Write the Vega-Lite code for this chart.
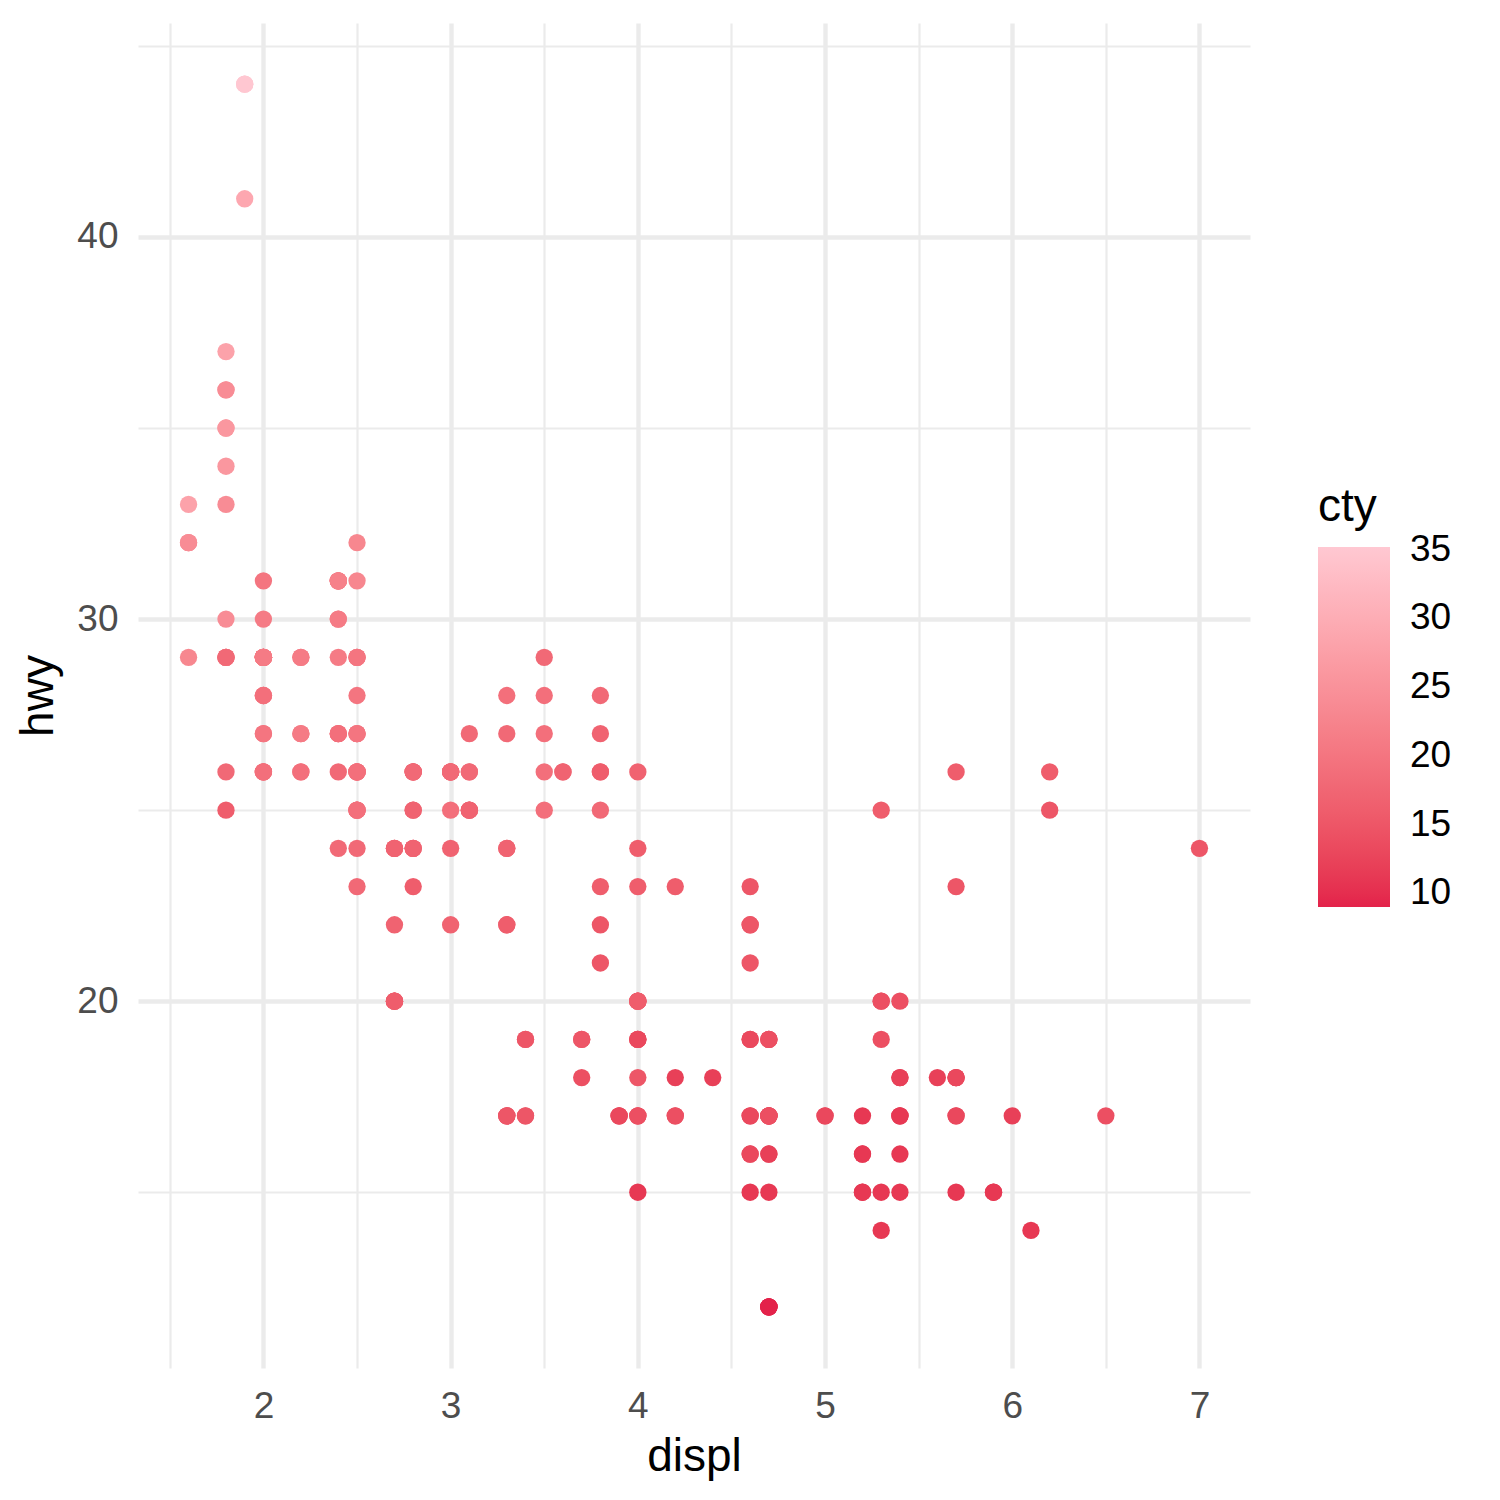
{
  "$schema": "https://vega.github.io/schema/vega-lite/v6.json",
  "autosize": "none",
  "padding": {"left": 138, "top": 23, "right": 250, "bottom": 132},
  "width": 1112,
  "height": 1345,
  "background": "white",
  "config": {
    "view": {"stroke": null},
    "font": "Liberation Sans",
    "axis": {
      "domain": false,
      "ticks": false,
      "gridColor": "#EBEBEB",
      "labelFont": "Liberation Sans",
      "labelFontSize": 37,
      "labelColor": "#4D4D4D",
      "titleFont": "Liberation Sans",
      "titleFontSize": 46,
      "titleFontWeight": "normal",
      "titleColor": "#000000"
    }
  },
  "data": {
    "values": [
      {"displ": 1.8, "hwy": 29, "cty": 18}, {"displ": 1.8, "hwy": 29, "cty": 21}, {"displ": 2.0, "hwy": 31, "cty": 20},
      {"displ": 2.0, "hwy": 30, "cty": 21}, {"displ": 2.8, "hwy": 26, "cty": 16}, {"displ": 2.8, "hwy": 26, "cty": 18},
      {"displ": 3.1, "hwy": 27, "cty": 18}, {"displ": 1.8, "hwy": 26, "cty": 18}, {"displ": 1.8, "hwy": 25, "cty": 16},
      {"displ": 2.0, "hwy": 28, "cty": 20}, {"displ": 2.0, "hwy": 27, "cty": 19}, {"displ": 2.8, "hwy": 25, "cty": 15},
      {"displ": 2.8, "hwy": 25, "cty": 17}, {"displ": 3.1, "hwy": 25, "cty": 17}, {"displ": 3.1, "hwy": 25, "cty": 15},
      {"displ": 2.8, "hwy": 24, "cty": 15}, {"displ": 3.1, "hwy": 25, "cty": 17}, {"displ": 4.2, "hwy": 23, "cty": 16},
      {"displ": 5.3, "hwy": 20, "cty": 14}, {"displ": 5.3, "hwy": 15, "cty": 11}, {"displ": 5.3, "hwy": 20, "cty": 14},
      {"displ": 5.7, "hwy": 17, "cty": 13}, {"displ": 6.0, "hwy": 17, "cty": 12}, {"displ": 5.7, "hwy": 26, "cty": 16},
      {"displ": 5.7, "hwy": 23, "cty": 15}, {"displ": 6.2, "hwy": 26, "cty": 16}, {"displ": 6.2, "hwy": 25, "cty": 15},
      {"displ": 7.0, "hwy": 24, "cty": 15}, {"displ": 5.3, "hwy": 19, "cty": 14}, {"displ": 5.3, "hwy": 14, "cty": 11},
      {"displ": 5.7, "hwy": 15, "cty": 11}, {"displ": 6.5, "hwy": 17, "cty": 14}, {"displ": 2.4, "hwy": 27, "cty": 19},
      {"displ": 2.4, "hwy": 30, "cty": 22}, {"displ": 3.1, "hwy": 26, "cty": 18}, {"displ": 3.5, "hwy": 29, "cty": 18},
      {"displ": 3.6, "hwy": 26, "cty": 17}, {"displ": 2.4, "hwy": 24, "cty": 18}, {"displ": 3.0, "hwy": 24, "cty": 17},
      {"displ": 3.3, "hwy": 22, "cty": 16}, {"displ": 3.3, "hwy": 22, "cty": 16}, {"displ": 3.3, "hwy": 24, "cty": 17},
      {"displ": 3.3, "hwy": 24, "cty": 17}, {"displ": 3.3, "hwy": 17, "cty": 11}, {"displ": 3.8, "hwy": 22, "cty": 15},
      {"displ": 3.8, "hwy": 21, "cty": 15}, {"displ": 3.8, "hwy": 23, "cty": 16}, {"displ": 4.0, "hwy": 23, "cty": 16},
      {"displ": 3.7, "hwy": 19, "cty": 15}, {"displ": 3.7, "hwy": 18, "cty": 14}, {"displ": 3.9, "hwy": 17, "cty": 13},
      {"displ": 3.9, "hwy": 17, "cty": 14}, {"displ": 4.7, "hwy": 19, "cty": 14}, {"displ": 4.7, "hwy": 19, "cty": 14},
      {"displ": 4.7, "hwy": 12, "cty": 9}, {"displ": 5.2, "hwy": 17, "cty": 11}, {"displ": 5.2, "hwy": 15, "cty": 11},
      {"displ": 3.9, "hwy": 17, "cty": 13}, {"displ": 4.7, "hwy": 17, "cty": 13}, {"displ": 4.7, "hwy": 12, "cty": 9},
      {"displ": 4.7, "hwy": 17, "cty": 13}, {"displ": 5.2, "hwy": 16, "cty": 11}, {"displ": 5.7, "hwy": 18, "cty": 13},
      {"displ": 5.9, "hwy": 15, "cty": 11}, {"displ": 4.7, "hwy": 16, "cty": 12}, {"displ": 4.7, "hwy": 12, "cty": 9},
      {"displ": 4.7, "hwy": 17, "cty": 13}, {"displ": 4.7, "hwy": 17, "cty": 13}, {"displ": 4.7, "hwy": 16, "cty": 12},
      {"displ": 4.7, "hwy": 12, "cty": 9}, {"displ": 5.2, "hwy": 15, "cty": 11}, {"displ": 5.2, "hwy": 16, "cty": 11},
      {"displ": 5.7, "hwy": 17, "cty": 13}, {"displ": 5.9, "hwy": 15, "cty": 11}, {"displ": 4.6, "hwy": 17, "cty": 11},
      {"displ": 5.4, "hwy": 17, "cty": 11}, {"displ": 5.4, "hwy": 18, "cty": 12}, {"displ": 4.0, "hwy": 17, "cty": 14},
      {"displ": 4.0, "hwy": 19, "cty": 15}, {"displ": 4.0, "hwy": 17, "cty": 14}, {"displ": 4.0, "hwy": 19, "cty": 13},
      {"displ": 4.6, "hwy": 19, "cty": 13}, {"displ": 5.0, "hwy": 17, "cty": 13}, {"displ": 4.2, "hwy": 17, "cty": 14},
      {"displ": 4.2, "hwy": 17, "cty": 14}, {"displ": 4.6, "hwy": 16, "cty": 13}, {"displ": 4.6, "hwy": 16, "cty": 13},
      {"displ": 4.6, "hwy": 17, "cty": 13}, {"displ": 5.4, "hwy": 15, "cty": 11}, {"displ": 5.4, "hwy": 17, "cty": 13},
      {"displ": 3.8, "hwy": 26, "cty": 18}, {"displ": 3.8, "hwy": 25, "cty": 18}, {"displ": 4.0, "hwy": 26, "cty": 17},
      {"displ": 4.0, "hwy": 24, "cty": 16}, {"displ": 4.6, "hwy": 21, "cty": 15}, {"displ": 4.6, "hwy": 22, "cty": 15},
      {"displ": 4.6, "hwy": 23, "cty": 15}, {"displ": 4.6, "hwy": 22, "cty": 15}, {"displ": 5.4, "hwy": 20, "cty": 14},
      {"displ": 1.6, "hwy": 33, "cty": 28}, {"displ": 1.6, "hwy": 32, "cty": 24}, {"displ": 1.6, "hwy": 32, "cty": 25},
      {"displ": 1.6, "hwy": 29, "cty": 23}, {"displ": 1.6, "hwy": 32, "cty": 24}, {"displ": 1.8, "hwy": 34, "cty": 26},
      {"displ": 1.8, "hwy": 36, "cty": 25}, {"displ": 1.8, "hwy": 36, "cty": 24}, {"displ": 2.0, "hwy": 29, "cty": 21},
      {"displ": 2.4, "hwy": 26, "cty": 18}, {"displ": 2.4, "hwy": 27, "cty": 18}, {"displ": 2.4, "hwy": 30, "cty": 21},
      {"displ": 2.4, "hwy": 31, "cty": 21}, {"displ": 2.5, "hwy": 26, "cty": 18}, {"displ": 2.5, "hwy": 26, "cty": 18},
      {"displ": 3.3, "hwy": 28, "cty": 19}, {"displ": 2.0, "hwy": 26, "cty": 19}, {"displ": 2.0, "hwy": 29, "cty": 19},
      {"displ": 2.0, "hwy": 28, "cty": 20}, {"displ": 2.0, "hwy": 27, "cty": 20}, {"displ": 2.7, "hwy": 24, "cty": 17},
      {"displ": 2.7, "hwy": 24, "cty": 16}, {"displ": 2.7, "hwy": 24, "cty": 17}, {"displ": 3.0, "hwy": 22, "cty": 17},
      {"displ": 3.7, "hwy": 19, "cty": 15}, {"displ": 4.0, "hwy": 20, "cty": 15}, {"displ": 4.7, "hwy": 17, "cty": 14},
      {"displ": 4.7, "hwy": 12, "cty": 9}, {"displ": 4.7, "hwy": 19, "cty": 14}, {"displ": 5.7, "hwy": 18, "cty": 13},
      {"displ": 6.1, "hwy": 14, "cty": 11}, {"displ": 4.0, "hwy": 15, "cty": 11}, {"displ": 4.2, "hwy": 18, "cty": 12},
      {"displ": 4.4, "hwy": 18, "cty": 12}, {"displ": 4.6, "hwy": 15, "cty": 11}, {"displ": 5.4, "hwy": 17, "cty": 11},
      {"displ": 5.4, "hwy": 16, "cty": 11}, {"displ": 5.4, "hwy": 18, "cty": 12}, {"displ": 4.0, "hwy": 17, "cty": 14},
      {"displ": 4.0, "hwy": 19, "cty": 13}, {"displ": 4.6, "hwy": 19, "cty": 13}, {"displ": 5.0, "hwy": 17, "cty": 13},
      {"displ": 2.4, "hwy": 29, "cty": 21}, {"displ": 2.4, "hwy": 27, "cty": 19}, {"displ": 2.5, "hwy": 31, "cty": 23},
      {"displ": 2.5, "hwy": 32, "cty": 23}, {"displ": 3.5, "hwy": 27, "cty": 19}, {"displ": 3.5, "hwy": 26, "cty": 19},
      {"displ": 3.0, "hwy": 26, "cty": 18}, {"displ": 3.0, "hwy": 25, "cty": 19}, {"displ": 3.5, "hwy": 25, "cty": 19},
      {"displ": 3.3, "hwy": 17, "cty": 14}, {"displ": 3.3, "hwy": 17, "cty": 15}, {"displ": 4.0, "hwy": 20, "cty": 14},
      {"displ": 5.6, "hwy": 18, "cty": 12}, {"displ": 3.1, "hwy": 26, "cty": 18}, {"displ": 3.8, "hwy": 26, "cty": 16},
      {"displ": 3.8, "hwy": 27, "cty": 17}, {"displ": 3.8, "hwy": 28, "cty": 18}, {"displ": 5.3, "hwy": 25, "cty": 16},
      {"displ": 2.5, "hwy": 25, "cty": 18}, {"displ": 2.5, "hwy": 24, "cty": 18}, {"displ": 2.5, "hwy": 27, "cty": 20},
      {"displ": 2.5, "hwy": 25, "cty": 19}, {"displ": 2.5, "hwy": 26, "cty": 20}, {"displ": 2.5, "hwy": 23, "cty": 18},
      {"displ": 2.2, "hwy": 26, "cty": 21}, {"displ": 2.2, "hwy": 26, "cty": 19}, {"displ": 2.5, "hwy": 26, "cty": 19},
      {"displ": 2.5, "hwy": 26, "cty": 19}, {"displ": 2.5, "hwy": 25, "cty": 20}, {"displ": 2.5, "hwy": 27, "cty": 20},
      {"displ": 2.5, "hwy": 25, "cty": 19}, {"displ": 2.5, "hwy": 27, "cty": 20}, {"displ": 2.7, "hwy": 20, "cty": 15},
      {"displ": 2.7, "hwy": 20, "cty": 16}, {"displ": 3.4, "hwy": 19, "cty": 15}, {"displ": 3.4, "hwy": 17, "cty": 15},
      {"displ": 4.0, "hwy": 20, "cty": 16}, {"displ": 4.7, "hwy": 17, "cty": 14}, {"displ": 2.2, "hwy": 29, "cty": 21},
      {"displ": 2.2, "hwy": 27, "cty": 21}, {"displ": 2.4, "hwy": 31, "cty": 21}, {"displ": 2.4, "hwy": 31, "cty": 21},
      {"displ": 3.0, "hwy": 26, "cty": 18}, {"displ": 3.0, "hwy": 26, "cty": 18}, {"displ": 3.5, "hwy": 28, "cty": 19},
      {"displ": 2.2, "hwy": 27, "cty": 21}, {"displ": 2.2, "hwy": 29, "cty": 21}, {"displ": 2.4, "hwy": 31, "cty": 21},
      {"displ": 2.4, "hwy": 31, "cty": 22}, {"displ": 3.0, "hwy": 26, "cty": 18}, {"displ": 3.0, "hwy": 26, "cty": 18},
      {"displ": 3.3, "hwy": 27, "cty": 18}, {"displ": 1.8, "hwy": 30, "cty": 24}, {"displ": 1.8, "hwy": 33, "cty": 24},
      {"displ": 1.8, "hwy": 35, "cty": 26}, {"displ": 1.8, "hwy": 37, "cty": 28}, {"displ": 1.8, "hwy": 35, "cty": 26},
      {"displ": 4.7, "hwy": 15, "cty": 11}, {"displ": 5.7, "hwy": 18, "cty": 13}, {"displ": 2.7, "hwy": 20, "cty": 15},
      {"displ": 2.7, "hwy": 20, "cty": 16}, {"displ": 2.7, "hwy": 22, "cty": 17}, {"displ": 3.4, "hwy": 17, "cty": 15},
      {"displ": 3.4, "hwy": 19, "cty": 15}, {"displ": 4.0, "hwy": 18, "cty": 15}, {"displ": 4.0, "hwy": 20, "cty": 16},
      {"displ": 2.0, "hwy": 29, "cty": 21}, {"displ": 2.0, "hwy": 26, "cty": 19}, {"displ": 2.0, "hwy": 29, "cty": 21},
      {"displ": 2.0, "hwy": 29, "cty": 22}, {"displ": 2.8, "hwy": 24, "cty": 17}, {"displ": 1.9, "hwy": 44, "cty": 33},
      {"displ": 2.0, "hwy": 29, "cty": 21}, {"displ": 2.0, "hwy": 26, "cty": 19}, {"displ": 2.0, "hwy": 29, "cty": 22},
      {"displ": 2.0, "hwy": 29, "cty": 21}, {"displ": 2.5, "hwy": 29, "cty": 21}, {"displ": 2.5, "hwy": 29, "cty": 21},
      {"displ": 2.8, "hwy": 23, "cty": 16}, {"displ": 2.8, "hwy": 24, "cty": 17}, {"displ": 1.9, "hwy": 44, "cty": 35},
      {"displ": 1.9, "hwy": 41, "cty": 29}, {"displ": 2.0, "hwy": 29, "cty": 21}, {"displ": 2.0, "hwy": 26, "cty": 19},
      {"displ": 2.5, "hwy": 28, "cty": 20}, {"displ": 2.5, "hwy": 29, "cty": 20}, {"displ": 1.8, "hwy": 29, "cty": 21},
      {"displ": 1.8, "hwy": 29, "cty": 18}, {"displ": 2.0, "hwy": 28, "cty": 19}, {"displ": 2.0, "hwy": 29, "cty": 21},
      {"displ": 2.8, "hwy": 26, "cty": 16}, {"displ": 2.8, "hwy": 26, "cty": 18}, {"displ": 3.6, "hwy": 26, "cty": 17}
    ]
  },
  "encoding": {
    "x": {
      "field": "displ",
      "type": "quantitative",
      "scale": {"domain": [1.33, 7.27], "nice": false, "zero": false}
    },
    "y": {
      "field": "hwy",
      "type": "quantitative",
      "scale": {"domain": [10.4, 45.6], "nice": false, "zero": false}
    }
  },
  "layer": [
    {
      "mark": {"type": "point", "opacity": 0},
      "encoding": {
        "x": {
          "field": "displ",
          "type": "quantitative",
          "axis": {
            "orient": "bottom",
            "values": [1.5, 2.5, 3.5, 4.5, 5.5, 6.5],
            "grid": true,
            "gridWidth": 2.2,
            "labels": false,
            "title": null
          }
        },
        "y": {
          "field": "hwy",
          "type": "quantitative",
          "axis": {
            "orient": "left",
            "values": [15, 25, 35, 45],
            "grid": true,
            "gridWidth": 2.2,
            "labels": false,
            "title": null
          }
        }
      }
    },
    {
      "mark": {"type": "circle", "size": 300, "opacity": 1},
      "encoding": {
        "x": {
          "field": "displ",
          "type": "quantitative",
          "axis": {
            "orient": "bottom",
            "values": [2, 3, 4, 5, 6, 7],
            "grid": true,
            "gridWidth": 4.4,
            "labelPadding": 20,
            "title": "displ",
            "titlePadding": 10
          }
        },
        "y": {
          "field": "hwy",
          "type": "quantitative",
          "axis": {
            "orient": "left",
            "values": [20, 30, 40],
            "grid": true,
            "gridWidth": 4.4,
            "labelPadding": 20,
            "title": "hwy",
            "titlePadding": 14
          }
        },
        "color": {
          "field": "cty",
          "type": "quantitative",
          "scale": {"domain": [9, 35.2], "range": ["#E3224A", "#FFC8D2"], "interpolate": "lab"},
          "legend": {
            "orient": "none",
            "legendX": 1180,
            "legendY": 462,
            "direction": "vertical",
            "title": "cty",
            "titleFont": "Liberation Sans",
            "titleFontSize": 46,
            "titleFontWeight": "normal",
            "titleColor": "#000000",
            "titlePadding": 16,
            "gradientLength": 360,
            "gradientThickness": 72,
            "gradientStrokeWidth": 0,
            "values": [10, 15, 20, 25, 30, 35],
            "labelFont": "Liberation Sans",
            "labelFontSize": 37,
            "labelColor": "#000000",
            "labelOffset": 20,
            "labelOverlap": false,
            "padding": 0
          }
        }
      }
    }
  ],
  "resolve": {"axis": {"x": "independent", "y": "independent"}}
}
